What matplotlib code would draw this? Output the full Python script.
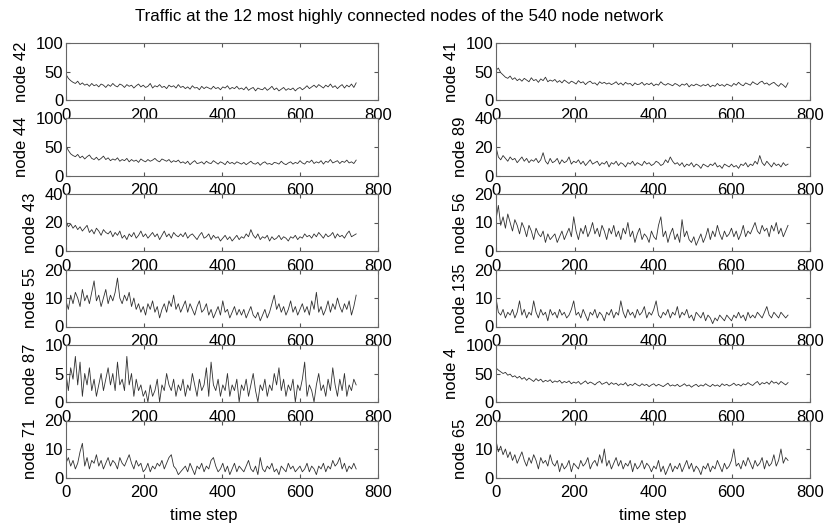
import numpy as np
import matplotlib
matplotlib.use("Agg")
import matplotlib.pyplot as plt

plt.rcParams['font.family'] = ['Liberation Sans', 'DejaVu Sans']

# time step between stored samples
step = 6

# left column, top to bottom
node42 = [45, 38, 34, 31, 29, 33, 27, 30, 26, 28, 24, 29, 25, 27, 23, 28, 26, 22, 27, 24, 29, 25, 23, 28, 26,
          22, 27, 24, 26, 21, 25, 28, 23, 26, 22, 24, 29, 21, 25, 23, 27, 22, 24, 20, 26, 23, 25, 21, 27, 22,
          24, 20, 23, 19, 25, 21, 22, 18, 24, 20, 23, 21, 19, 24, 20, 22, 18, 23, 21, 25, 19, 22, 20, 24, 19,
          21, 18, 23, 17, 20, 22, 16, 21, 19, 18, 22, 17, 20, 24, 18, 21, 16, 19, 22, 17, 20, 18, 21, 16, 20,
          22, 18, 21, 25, 20, 23, 26, 22, 27, 24, 21, 26, 23, 28, 22, 25, 20, 24, 27, 21, 26, 23, 28, 22, 30]
node44 = [52, 44, 38, 35, 33, 37, 31, 34, 29, 33, 36, 30, 28, 32, 27, 30, 34, 28, 31, 26, 29, 27, 31, 25, 28,
          26, 30, 24, 28, 25, 27, 23, 29, 26, 24, 28, 25, 27, 30, 26, 24, 29, 27, 25, 28, 23, 26, 24, 27, 22,
          24, 21, 25, 19, 23, 26, 21, 22, 24, 20, 25, 22, 21, 26, 23, 20, 24, 22, 19, 25, 21, 23, 20, 24, 22,
          20, 23, 19, 22, 25, 21, 20, 23, 18, 22, 24, 20, 21, 19, 23, 22, 20, 25, 21, 19, 22, 24, 20, 23, 21,
          26, 22, 20, 25, 23, 27, 21, 24, 22, 26, 20, 25, 23, 28, 22, 24, 26, 21, 25, 23, 27, 22, 24, 21, 27]
node43 = [21, 17, 19, 16, 18, 15, 17, 14, 16, 18, 13, 15, 12, 16, 14, 11, 15, 13, 12, 14, 10, 13, 11, 14, 9,
          11, 8, 12, 10, 13, 9, 11, 14, 10, 12, 9, 11, 13, 10, 12, 8, 11, 14, 10, 12, 9, 13, 11, 10, 12,
          10, 13, 9, 11, 12, 10, 8, 11, 13, 9, 10, 12, 8, 11, 9, 10, 7, 9, 11, 8, 10, 7, 9, 11, 8,
          10, 9, 12, 10, 15, 11, 9, 12, 8, 10, 9, 11, 7, 10, 8, 9, 11, 8, 10, 9, 7, 10, 9, 11, 8,
          10, 9, 12, 10, 11, 9, 12, 10, 13, 11, 9, 12, 10, 11, 13, 9, 12, 10, 11, 9, 12, 14, 10, 11, 12]
node55 = [9, 6, 11, 8, 12, 10, 7, 13, 9, 11, 8, 12, 16, 9, 11, 7, 10, 13, 8, 11, 9, 12, 17, 10, 8,
          11, 9, 12, 7, 10, 6, 8, 5, 7, 4, 8, 6, 9, 5, 7, 3, 6, 8, 5, 9, 7, 11, 6, 8, 5,
          7, 9, 5, 8, 6, 4, 7, 9, 5, 6, 8, 4, 6, 3, 5, 7, 4, 9, 5, 6, 3, 5, 7, 4, 6,
          4, 6, 3, 5, 7, 4, 3, 5, 2, 4, 6, 3, 5, 8, 11, 6, 8, 5, 7, 4, 6, 9, 5, 7, 4,
          6, 8, 5, 7, 4, 9, 6, 12, 5, 7, 4, 6, 9, 5, 8, 6, 10, 7, 5, 8, 6, 9, 4, 7, 11]
node87 = [5, 2, 6, 4, 8, 3, 7, 1, 5, 3, 6, 2, 4, 1, 3, 5, 2, 4, 6, 3, 5, 2, 7, 3, 4,
          2, 8, 3, 5, 1, 4, 2, 3, 1, 2, 0, 3, 1, 2, 4, 0, 3, 2, 5, 3, 2, 4, 1, 3, 2,
          4, 1, 3, 2, 5, 3, 1, 4, 2, 3, 6, 1, 7, 3, 2, 4, 1, 3, 2, 5, 1, 3, 2, 4, 0,
          3, 2, 4, 1, 3, 5, 2, 0, 3, 2, 4, 1, 3, 2, 5, 3, 6, 2, 4, 1, 3, 2, 4, 0, 3,
          2, 4, 7, 1, 3, 2, 0, 3, 5, 2, 3, 1, 4, 2, 6, 3, 1, 4, 2, 5, 1, 3, 2, 4, 3]
node71 = [5, 7, 4, 6, 3, 5, 9, 12, 4, 7, 3, 6, 5, 8, 4, 6, 3, 5, 7, 4, 6, 5, 3, 7, 5,
          4, 6, 8, 5, 3, 6, 4, 5, 2, 3, 5, 2, 4, 3, 5, 4, 6, 3, 5, 7, 8, 4, 3, 1, 2,
          3, 4, 2, 5, 3, 1, 4, 3, 5, 2, 4, 3, 6, 7, 4, 2, 3, 5, 2, 4, 1, 3, 5, 2, 4,
          3, 2, 4, 6, 3, 2, 4, 1, 7, 3, 2, 4, 3, 5, 2, 3, 1, 4, 3, 2, 5, 3, 4, 2, 3,
          4, 2, 3, 5, 2, 4, 3, 1, 4, 3, 5, 2, 4, 3, 6, 4, 5, 7, 3, 5, 2, 4, 3, 5, 3]

# right column, top to bottom
node41 = [52, 56, 48, 44, 40, 38, 42, 36, 39, 34, 37, 33, 38, 35, 32, 39, 34, 36, 31, 37, 34, 40, 32, 35, 33,
          36, 31, 34, 30, 35, 32, 29, 33, 31, 28, 34, 30, 32, 27, 31, 33, 29, 30, 26, 32, 29, 31, 28, 30, 27,
          29, 32, 27, 30, 26, 31, 28, 29, 25, 30, 27, 28, 31, 26, 29, 27, 30, 25, 28, 26, 32, 28, 26, 29, 27,
          25, 29, 27, 24, 28, 26, 29, 23, 27, 25, 28, 26, 24, 27, 25, 28, 23, 26, 24, 29, 25, 27, 24, 28, 26,
          24, 29, 26, 31, 27, 25, 30, 28, 26, 32, 29, 27, 31, 33, 28, 30, 26, 29, 31, 27, 24, 29, 26, 22, 30]
node89 = [20, 13, 11, 14, 12, 10, 13, 11, 12, 9, 11, 13, 10, 12, 9, 11, 10, 12, 9, 11, 16, 10, 8, 12, 9,
          10, 12, 8, 11, 9, 10, 13, 8, 10, 9, 11, 8, 10, 7, 9, 11, 8, 9, 10, 7, 9, 8, 10, 6, 9,
          8, 10, 7, 9, 8, 6, 9, 8, 10, 7, 9, 8, 7, 10, 8, 9, 7, 8, 10, 9, 7, 8, 11, 9, 13,
          10, 8, 9, 7, 9, 6, 8, 7, 9, 6, 8, 7, 5, 8, 7, 6, 8, 7, 9, 6, 7, 5, 8, 7, 6,
          8, 6, 7, 5, 8, 7, 9, 6, 8, 7, 10, 8, 14, 9, 7, 10, 8, 6, 9, 7, 8, 6, 9, 7, 8]
node56 = [11, 16, 9, 12, 8, 13, 10, 7, 11, 9, 6, 10, 8, 5, 9, 7, 4, 8, 6, 5, 7, 3, 6, 4, 5,
          6, 3, 5, 7, 4, 6, 8, 5, 12, 7, 4, 8, 6, 9, 5, 7, 10, 6, 8, 5, 9, 7, 4, 8, 6,
          9, 5, 7, 4, 8, 6, 10, 5, 7, 3, 6, 8, 4, 6, 5, 3, 7, 5, 4, 9, 12, 5, 7, 3, 6,
          8, 4, 6, 3, 11, 5, 7, 4, 3, 5, 2, 4, 6, 3, 5, 8, 4, 7, 5, 9, 6, 4, 7, 5, 6,
          8, 5, 7, 4, 6, 9, 5, 7, 6, 8, 10, 7, 6, 9, 7, 8, 5, 9, 7, 10, 6, 8, 5, 7, 9]
node135 = [10, 5, 4, 6, 3, 5, 4, 6, 3, 5, 9, 4, 6, 3, 5, 4, 9, 5, 3, 6, 4, 5, 2, 6, 4,
           5, 3, 6, 4, 5, 3, 4, 6, 9, 4, 5, 3, 6, 4, 2, 5, 4, 6, 3, 5, 4, 2, 5, 4, 6,
           3, 5, 4, 9, 5, 3, 6, 4, 5, 3, 6, 4, 5, 7, 3, 5, 4, 6, 9, 4, 3, 5, 4, 6, 3,
           5, 4, 7, 3, 5, 4, 6, 3, 4, 2, 5, 4, 3, 5, 2, 4, 3, 1, 3, 2, 4, 3, 2, 4, 3,
           2, 4, 3, 5, 3, 4, 2, 5, 3, 4, 3, 5, 4, 3, 5, 7, 4, 3, 5, 4, 3, 5, 4, 3, 4]
node4 = [60, 56, 53, 50, 52, 47, 49, 44, 46, 42, 45, 40, 43, 38, 42, 39, 36, 41, 37, 40, 35, 38, 36, 39, 34,
         37, 35, 38, 33, 36, 34, 37, 32, 35, 33, 36, 31, 34, 37, 32, 35, 33, 30, 34, 36, 31, 33, 35, 30, 34,
         31, 33, 29, 32, 30, 34, 28, 31, 29, 33, 30, 28, 32, 29, 31, 27, 30, 32, 28, 31, 29, 27, 30, 33, 28,
         30, 28, 31, 27, 29, 32, 28, 30, 26, 29, 31, 27, 30, 28, 32, 29, 27, 31, 28, 30, 27, 32, 29, 31, 28,
         30, 33, 29, 31, 28, 32, 30, 34, 31, 29, 33, 36, 30, 34, 32, 35, 31, 37, 33, 35, 31, 36, 33, 30, 34]
node65 = [13, 9, 11, 8, 10, 7, 9, 6, 8, 5, 7, 9, 6, 4, 7, 5, 8, 6, 3, 7, 5, 6, 4, 8, 5,
          4, 6, 2, 5, 3, 4, 6, 2, 5, 4, 3, 6, 4, 5, 7, 3, 5, 6, 4, 8, 5, 10, 4, 6, 3,
          5, 7, 4, 6, 3, 5, 4, 6, 2, 5, 3, 4, 6, 3, 5, 4, 2, 4, 3, 6, 2, 4, 1, 3, 5,
          2, 4, 3, 5, 2, 4, 6, 3, 5, 2, 4, 3, 1, 4, 3, 5, 2, 4, 3, 6, 4, 2, 5, 3, 4,
          6, 10, 4, 5, 3, 6, 4, 7, 5, 3, 6, 4, 5, 7, 3, 6, 4, 5, 8, 4, 6, 10, 5, 7, 6]

left_names = ["node 42", "node 44", "node 43", "node 55", "node 87", "node 71"]
left_series = [node42, node44, node43, node55, node87, node71]
left_ymax = [100, 100, 40, 20, 10, 20]

right_names = ["node 41", "node 89", "node 56", "node 135", "node 4", "node 65"]
right_series = [node41, node89, node56, node135, node4, node65]
right_ymax = [100, 40, 20, 20, 100, 20]

fig = plt.figure(figsize=(8.27, 5.29), dpi=100)
W, H = 827.0, 529.0

# pixel geometry of the axes (matlab subplot layout)
col_left = [66, 496]
col_width = [312, 314]
row_top0 = 43
row_pitch = 75.5
ax_h = 57
# "time step" on the left sits a bit left of the axis centre
xlabel_xpos = [0.44, 0.5]


def draw_panel(ax, vals, ymax, name, last, xl_pos):
    t = np.arange(len(vals)) * step
    ax.plot(t, vals, color='#303030', lw=0.6)
    ax.set_xlim(0, 800)
    ax.set_ylim(0, ymax)
    ax.set_xticks([0, 200, 400, 600, 800])
    ax.set_yticks([0, ymax / 2, ymax])
    ax.set_yticklabels([f"{v:g}" for v in [0, ymax / 2, ymax]])
    ax.tick_params(direction='in', length=3, top=True, right=True,
                   labelsize=12, color='#555555')
    ax.tick_params(axis='x', pad=5.5)
    ax.tick_params(axis='y', pad=2)
    for sp in ax.spines.values():
        sp.set_color('#666666')
        sp.set_linewidth(0.8)
    ax.set_ylabel(name, fontsize=12, labelpad=5)
    if last:
        ax.set_xlabel("time step", fontsize=12)
        ax.xaxis.set_label_coords(xl_pos, -0.54)


for c, (names, series, ymaxs) in enumerate([(left_names, left_series, left_ymax),
                                            (right_names, right_series, right_ymax)]):
    for r in range(6):
        top = row_top0 + r * row_pitch
        rect = [col_left[c] / W, 1 - (top + ax_h) / H, col_width[c] / W, ax_h / H]
        ax = fig.add_axes(rect)
        draw_panel(ax, series[r], ymaxs[r], names[r], r == 5, xlabel_xpos[c])

fig.text(399 / W, 1 - 16 / H, "Traffic at the 12 most highly connected nodes of the 540 node network",
         ha='center', va='center', fontsize=12.2)

fig.savefig("out.png", dpi=100)
